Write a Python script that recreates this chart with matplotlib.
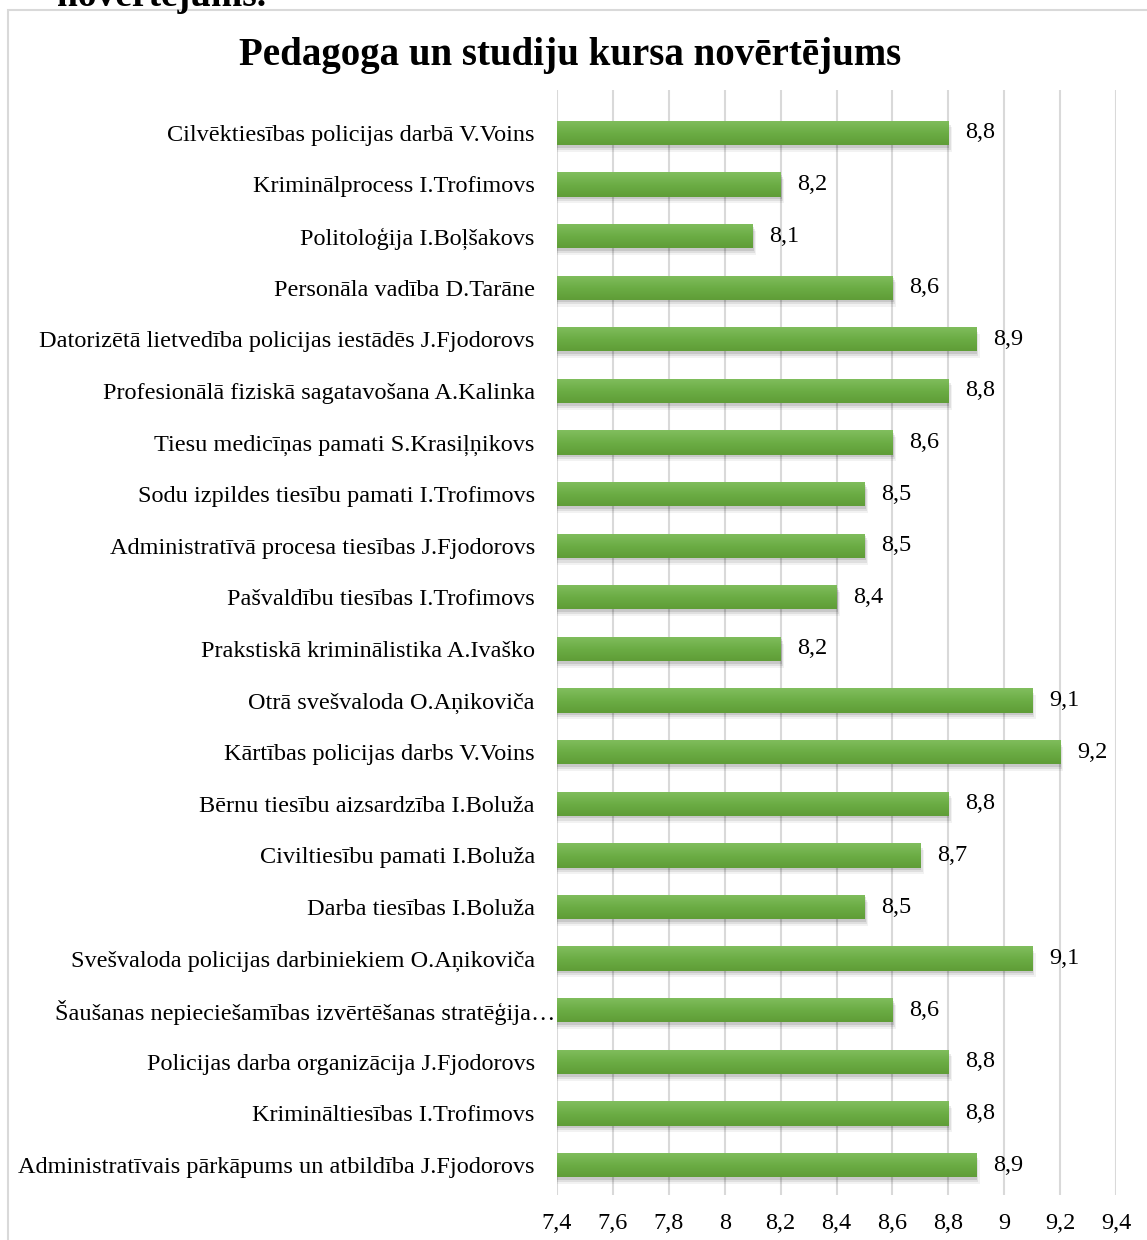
import numpy as np
import matplotlib
matplotlib.use("Agg")
import matplotlib.pyplot as plt
from matplotlib.patches import Rectangle
from matplotlib.ticker import FuncFormatter
from matplotlib.colors import LinearSegmentedColormap

courses = [
    "Cilvēktiesības policijas darbā V.Voins",
    "Kriminālprocess I.Trofimovs",
    "Politoloģija I.Boļšakovs",
    "Personāla vadība D.Tarāne",
    "Datorizētā lietvedība policijas iestādēs J.Fjodorovs",
    "Profesionālā fiziskā sagatavošana A.Kalinka",
    "Tiesu medicīņas pamati S.Krasiļņikovs",
    "Sodu izpildes tiesību pamati I.Trofimovs",
    "Administratīvā procesa tiesības J.Fjodorovs",
    "Pašvaldību tiesības I.Trofimovs",
    "Prakstiskā kriminālistika A.Ivaško",
    "Otrā svešvaloda O.Aņikoviča",
    "Kārtības policijas darbs V.Voins",
    "Bērnu tiesību aizsardzība I.Boluža",
    "Civiltiesību pamati I.Boluža",
    "Darba tiesības I.Boluža",
    "Svešvaloda policijas darbiniekiem O.Aņikoviča",
    "Šaušanas nepieciešamības izvērtēšanas stratēģija…",
    "Policijas darba organizācija J.Fjodorovs",
    "Krimināltiesības I.Trofimovs",
    "Administratīvais pārkāpums un atbildība J.Fjodorovs",
]
scores = [8.8, 8.2, 8.1, 8.6, 8.9, 8.8, 8.6, 8.5, 8.5, 8.4, 8.2,
          9.1, 9.2, 8.8, 8.7, 8.5, 9.1, 8.6, 8.8, 8.8, 8.9]
x_ticks = [7.4, 7.6, 7.8, 8.0, 8.2, 8.4, 8.6, 8.8, 9.0, 9.2, 9.4]

plt.rcParams['font.family'] = ['Liberation Serif', 'DejaVu Serif']
FS = 17.5

fig = plt.figure(figsize=(11.47, 12.40), dpi=100)

# chart area border (the chart is cut from a document page)
fig.patches.append(Rectangle((8 / 1147, -0.01), 1.0, 1 - 10 / 1240 + 0.01,
                             transform=fig.transFigure, fill=False,
                             edgecolor="#d9d9d9", linewidth=1.5))
# heading of the document above, partly cut off
fig.text(57 / 1147, 1 - 6 / 1240, "novērtējums.", fontsize=27, fontweight="bold",
         ha="left", va="baseline")

fig.text(570 / 1147, 1 - 55 / 1240, "Pedagoga un studiju kursa novērtējums",
         fontsize=28, fontweight="bold", ha="center", va="center")

ax = fig.add_axes([557 / 1147, 1 - 1195 / 1240, (1116 - 557) / 1147, (1195 - 90) / 1240])

x0 = 7.4
y = np.arange(len(courses))
height = 0.47
widths = np.array(scores) - x0

# soft shadow, a few layers
for dy, dx, a in [(0.05, 0.004, 0.10), (0.09, 0.008, 0.08), (0.13, 0.012, 0.05)]:
    ax.barh(y + dy, widths + dx, left=x0, height=height, color="#000000",
            alpha=a, linewidth=0, zorder=2)
bars = ax.barh(y, widths, left=x0, height=height,
               color="#6aab43", linewidth=0, zorder=3)

# vertical gradient on bars
grad = np.linspace(0, 1, 64).reshape(-1, 1)
cmap = LinearSegmentedColormap.from_list("g", ["#81be5e", "#6cad45", "#5f9d37"])
for b in bars:
    bx, by = b.get_x(), b.get_y()
    im = ax.imshow(grad, cmap=cmap, aspect="auto", zorder=4,
                   extent=[bx, bx + b.get_width(), by + b.get_height(), by],
                   interpolation="bicubic")
    im.set_clip_path(b)

for yi, s in zip(y, scores):
    ax.text(s + 0.06, yi, f"{s:.1f}".replace(".", ","), va="center", ha="left",
            fontsize=FS, zorder=5)

ax.set_xlim(7.4, 9.4)
ax.set_ylim(20.58, -0.83)
ax.set_xticks(x_ticks)
ax.xaxis.set_major_formatter(FuncFormatter(lambda v, p: f"{v:g}".replace(".", ",")))
ax.set_yticks(y)
ax.set_yticklabels(courses)
ax.tick_params(axis="both", length=0, labelsize=FS)
ax.tick_params(axis="x", pad=13)
ax.tick_params(axis="y", pad=16)
ax.yaxis.get_major_ticks()[17].set_pad(1)
ax.grid(axis="x", color="#d9d9d9", linewidth=1.5, zorder=0)
ax.set_axisbelow(True)
for sp in ax.spines.values():
    sp.set_visible(False)

fig.savefig("out.png", dpi=100)
